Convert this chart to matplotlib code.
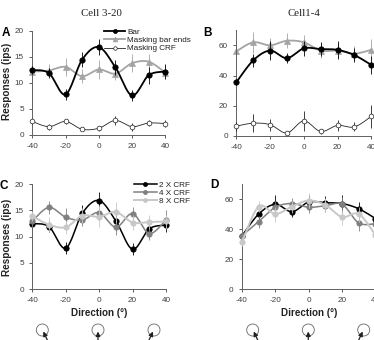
#!/usr/bin/env python3
"""Direction tuning of two cells under bar, masking and contrast conditions."""

import matplotlib
matplotlib.use("Agg")
import matplotlib.pyplot as plt
import numpy as np
from matplotlib.patches import Circle

W, H = 374, 340

plt.rcParams.update({
    "font.family": ["Liberation Sans", "DejaVu Sans"],
    "font.size": 5.9,
    "axes.linewidth": 0.7,
    "axes.edgecolor": "#606060",
    "axes.unicode_minus": False,
    "xtick.color": "#404040",
    "ytick.color": "#404040",
    "text.color": "#222222",
})

DIRECTION = [-40, -30, -20, -10, 0, 10, 20, 30, 40]

# Cell 3-20
A_BAR = [12.5, 11.9, 7.8, 14.5, 16.9, 13.0, 7.6, 11.5, 12.2]
A_BAR_ERR = [0.8, 1.0, 1.1, 1.5, 1.6, 1.4, 1.1, 1.6, 1.4]
A_ENDS = [12.2, 12.4, 13.1, 11.3, 12.6, 11.8, 13.8, 14.1, 12.0]
A_ENDS_ERR = [1.2, 1.3, 1.8, 1.3, 1.8, 1.3, 1.7, 1.5, 1.2]
A_CRF = [2.6, 1.6, 2.6, 1.1, 1.3, 2.8, 1.6, 2.3, 2.2]
A_CRF_ERR = [0.4, 0.6, 0.5, 0.4, 0.5, 0.9, 0.8, 0.5, 0.6]

C_4X = [13.0, 15.6, 13.7, 13.2, 14.6, 11.8, 14.4, 10.6, 13.2]
C_4X_ERR = [1.1, 1.2, 1.7, 1.2, 1.5, 1.4, 1.2, 1.2, 1.8]
C_8X = [13.9, 12.3, 11.8, 14.0, 13.8, 14.7, 12.7, 12.8, 12.9]
C_8X_ERR = [1.0, 1.4, 1.2, 1.4, 2.0, 2.0, 1.5, 1.4, 1.3]

# Cell1-4
B_BAR = [35.5, 50.0, 56.5, 51.5, 58.0, 57.5, 57.0, 53.5, 47.0]
B_BAR_ERR = [2.0, 4.5, 6.5, 3.5, 5.0, 4.5, 6.0, 4.5, 6.0]
B_ENDS = [56.0, 62.0, 60.0, 63.0, 62.0, 56.5, 56.5, 54.5, 57.0]
B_ENDS_ERR = [5.0, 7.0, 5.0, 5.0, 5.0, 5.0, 5.0, 5.0, 7.0]
B_CRF = [6.5, 8.5, 7.5, 2.0, 10.0, 3.0, 7.0, 6.0, 13.0]
B_CRF_ERR = [3.0, 6.0, 4.0, 1.5, 6.5, 1.5, 3.5, 3.0, 7.5]

D_4X = [35.5, 45.0, 54.5, 57.0, 54.5, 55.5, 56.5, 44.0, 43.5]
D_4X_ERR = [3.0, 4.0, 4.5, 3.5, 3.5, 4.0, 5.0, 5.0, 4.0]
D_8X = [31.5, 55.0, 50.0, 55.0, 59.0, 56.0, 48.0, 50.0, 36.0]
D_8X_ERR = [3.0, 3.5, 5.0, 4.0, 5.0, 4.5, 5.0, 5.0, 5.0]

BLACK = "#000000"
MID = "#808080"
LIGHT = "#c8c8c8"
ENDS = "#a4a4a4"


def smooth(x, y, steps=16):
    # Catmull-Rom pass through the points, like a spreadsheet's smoothed line
    x = np.asarray(x, float)
    y = np.asarray(y, float)
    px = np.r_[x[0], x, x[-1]]
    py = np.r_[y[0], y, y[-1]]
    xs, ys = [], []
    for i in range(1, len(px) - 2):
        t = np.linspace(0, 1, steps, endpoint=False)
        for p, out in ((px, xs), (py, ys)):
            a, b, c, d = p[i - 1], p[i], p[i + 1], p[i + 2]
            out.append(0.5 * (2 * b + (c - a) * t + (2 * a - 5 * b + 4 * c - d) * t**2
                              + (3 * b - a - 3 * c + d) * t**3))
    return np.r_[np.concatenate(xs), x[-1]], np.r_[np.concatenate(ys), y[-1]]


def add_axes_px(fig, left, right, top, bottom):
    return fig.add_axes([left / W, 1 - bottom / H, (right - left) / W, (bottom - top) / H])


def series(ax, y, err, color, label, lw=1.3, marker="o", ms=3.9, face=None, z=3):
    ax.errorbar(DIRECTION, y, yerr=err, fmt="none", ecolor=color, elinewidth=0.6,
                capsize=0, clip_on=False, zorder=z)
    sx, sy = smooth(DIRECTION, y)
    ax.plot(sx, sy, color=color, lw=lw, clip_on=False, zorder=z)
    ax.plot(DIRECTION, y, ls="none", marker=marker, ms=ms, mfc=face or color, mec=color,
            mew=0.5, clip_on=False, zorder=z + 0.1)
    # legend proxy with the same style
    ax.plot([], [], color=color, lw=lw, marker=marker, ms=ms * 0.75, mfc=face or color,
            mec=color, mew=0.5, label=label)


def style_axes(ax, ymax, yticks):
    ax.set_xlim(-40, 40)
    ax.set_ylim(0, ymax)
    ax.set_xticks(range(-40, 41, 20))
    ax.set_yticks(yticks)
    ax.spines["top"].set_visible(False)
    ax.spines["right"].set_visible(False)
    ax.tick_params(length=2.2, width=0.6, pad=3.8)
    ax.patch.set_alpha(0)


fig = plt.figure(figsize=(W / 100, H / 100), dpi=100)

ax_a = add_axes_px(fig, 32.3, 165.3, 31, 135)
ax_b = add_axes_px(fig, 236.3, 371.3, 30.2, 136)
ax_c = add_axes_px(fig, 32.3, 166, 184.3, 289)
ax_d = add_axes_px(fig, 242, 375.4, 184, 289)

series(ax_a, A_ENDS, A_ENDS_ERR, ENDS, "Masking bar ends", marker="^", ms=4.6, z=2)
series(ax_a, A_BAR, A_BAR_ERR, BLACK, "Bar", z=3)
series(ax_a, A_CRF, A_CRF_ERR, "#222222", "Masking CRF", lw=0.6, ms=3.4, face="white", z=4)
style_axes(ax_a, 20, [0, 5, 10, 15, 20])

series(ax_b, B_ENDS, B_ENDS_ERR, ENDS, "Masking bar ends", marker="^", ms=4.6, z=2)
series(ax_b, B_BAR, B_BAR_ERR, BLACK, "Bar", z=3)
series(ax_b, B_CRF, B_CRF_ERR, "#222222", "Masking CRF", lw=0.6, ms=3.4, face="white", z=4)
style_axes(ax_b, 70, [0, 20, 40, 60])

series(ax_c, A_BAR, A_BAR_ERR, BLACK, "2 X CRF", lw=1.1, z=2)
series(ax_c, C_4X, C_4X_ERR, MID, "4 X CRF", lw=1.1, z=3)
series(ax_c, C_8X, C_8X_ERR, LIGHT, "8 X CRF", lw=1.4, z=4)
style_axes(ax_c, 20, [0, 5, 10, 15, 20])

series(ax_d, B_BAR, B_BAR_ERR, BLACK, "2 X CRF", lw=1.1, z=2)
series(ax_d, D_4X, D_4X_ERR, MID, "4 X CRF", lw=1.1, z=3)
series(ax_d, D_8X, D_8X_ERR, LIGHT, "8 X CRF", lw=1.4, z=4)
style_axes(ax_d, 70, [0, 20, 40, 60])

# Legends, ordered as Bar / ends / CRF
handles, labels = ax_a.get_legend_handles_labels()
order = [1, 0, 2]
ax_a.legend([handles[i] for i in order], [labels[i] for i in order],
            loc="upper left", bbox_to_anchor=((104 - 32.3) / 133, 1.03), frameon=False,
            fontsize=5.9, labelspacing=0.08, handlelength=2.6, handletextpad=0.25,
            borderpad=0, borderaxespad=0)
ax_c.legend(loc="upper left", bbox_to_anchor=((134 - 32.3) / 133.7, 1.03), frameon=False,
            fontsize=5.9, labelspacing=0.05, handlelength=2.8, handletextpad=0.25,
            borderpad=0, borderaxespad=0)

# Full-figure overlay in pixel units for captions and stimulus icons
over = fig.add_axes([0, 0, 1, 1], zorder=10)
over.set_xlim(0, W)
over.set_ylim(H, 0)
over.axis("off")

over.text(101, 13, "Cell 3-20", family="Liberation Serif", fontsize=7.8, ha="center", va="center")
over.text(303.5, 13, "Cell1-4", family="Liberation Serif", fontsize=7.8, ha="center", va="center")

for letter, x, y in (("A", 6, 33.5), ("B", 207.5, 32.5), ("C", 4, 186), ("D", 214, 184.5)):
    over.text(x, y, letter, fontsize=8.5, fontweight="bold", color="black", ha="center", va="center")

for x, y in ((7, 81), (7, 237)):
    over.text(x, y, "Responses (ips)", rotation=90, fontsize=7.2, fontweight="bold",
              ha="center", va="center")
for x in (99, 309):
    over.text(x, 313, "Direction (°)", fontsize=7.1, fontweight="bold", ha="center", va="center")

# Stimulus icons: (centre x, arrow horizontal lean)
for cx, lean in ((42.3, 1), (98, 0), (154, -1), (252.7, 1), (308.3, 0), (363.7, -1)):
    over.add_patch(Circle((cx, 330), 6, fc="white", ec="#666666", lw=0.6, clip_on=False))
    over.annotate("", xy=(cx + lean * 1.0, 331.5), xytext=(cx + lean * 5.0, 340),
                  arrowprops=dict(arrowstyle="-|>", color="#222222", lw=0.9,
                                  mutation_scale=6.5, shrinkA=0, shrinkB=0))

fig.savefig("out.png", dpi=100)
plt.close(fig)
